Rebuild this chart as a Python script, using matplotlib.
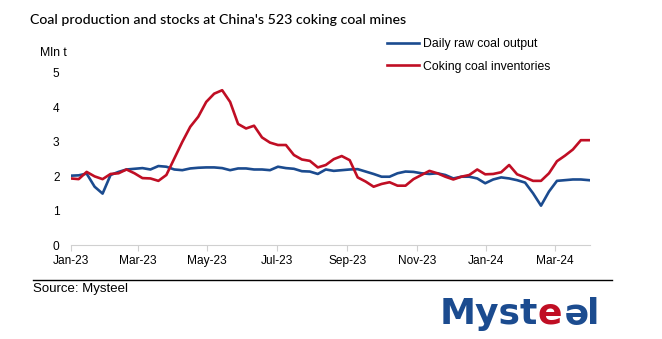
import matplotlib
matplotlib.use("Agg")
import matplotlib.pyplot as plt
import pandas as pd

# weekly readings, million tonnes
dates = pd.date_range("2023-01-06", periods=66, freq="7D")
daily_output = [2.02, 2.03, 2.08, 1.70, 1.50, 2.04, 2.13, 2.20, 2.22, 2.24,
                2.20, 2.30, 2.28, 2.20, 2.18, 2.23, 2.25, 2.26, 2.26, 2.24,
                2.18, 2.23, 2.23, 2.20, 2.20, 2.18, 2.28, 2.24, 2.22, 2.15,
                2.14, 2.07, 2.20, 2.16, 2.18, 2.20, 2.21, 2.14, 2.07, 1.99,
                1.99, 2.09, 2.14, 2.13, 2.09, 2.07, 2.09, 2.04, 1.94, 1.99,
                1.99, 1.94, 1.80, 1.91, 1.97, 1.94, 1.89, 1.82, 1.51, 1.15,
                1.56, 1.87, 1.89, 1.91, 1.91, 1.89]
inventories = [1.94, 1.92, 2.13, 2.00, 1.92, 2.07, 2.09, 2.20, 2.09, 1.95,
               1.94, 1.87, 2.04, 2.52, 3.00, 3.44, 3.73, 4.16, 4.40, 4.50,
               4.16, 3.52, 3.39, 3.47, 3.13, 2.98, 2.91, 2.91, 2.62, 2.49,
               2.45, 2.26, 2.33, 2.50, 2.59, 2.47, 1.97, 1.85, 1.70, 1.78,
               1.83, 1.73, 1.73, 1.92, 2.04, 2.16, 2.09, 1.99, 1.91, 1.99,
               2.04, 2.20, 2.06, 2.07, 2.12, 2.33, 2.06, 1.97, 1.87, 1.87,
               2.09, 2.44, 2.60, 2.78, 3.05, 3.05]
tick_dates = pd.to_datetime(["2023-01-06", "2023-03-06", "2023-05-06", "2023-07-06",
                             "2023-09-06", "2023-11-06", "2024-01-06", "2024-03-06"])
tick_labels = ["Jan-23", "Mar-23", "May-23", "Jul-23", "Sep-23", "Nov-23", "Jan-24", "Mar-24"]

blue = "#1B4B8F"
red = "#C00E24"
sans = ["Liberation Sans", "DejaVu Sans"]

fig = plt.figure(figsize=(6.62, 3.39), dpi=100)
ax = fig.add_axes([0.1068, 0.2764, 0.7844, 0.5083])

ax.plot(dates, daily_output, color=blue, lw=1.9, label="Daily raw coal output")
ax.plot(dates, inventories, color=red, lw=1.9, label="Coking coal inventories")

ax.set_ylim(0, 5)
ax.set_xlim(dates[0], dates[-1] + pd.Timedelta(days=1))
ax.set_yticks(range(6))
ax.set_xticks(tick_dates)
ax.set_xticklabels(tick_labels)
for s in ["top", "right", "left"]:
    ax.spines[s].set_visible(False)
ax.spines["bottom"].set_color("#d0d0d0")
ax.tick_params(axis="x", colors="#d0d0d0", length=4, pad=3, labelcolor="black")
ax.tick_params(axis="y", length=0, pad=8)
for lab in ax.get_xticklabels() + ax.get_yticklabels():
    lab.set_fontfamily(sans)
    lab.set_fontsize(8.6)

ax.legend(loc="upper left", bbox_to_anchor=(0.6, 1.23), frameon=False,
          prop={"family": sans, "size": 8.8}, handlelength=2.6,
          handletextpad=0.3, labelspacing=0.85, borderaxespad=0)

fig.text(0.046, 0.94, "Coal production and stocks at China's 523 coking coal mines",
         fontsize=10.2, family="Lato", weight="medium", va="center")
fig.text(0.06, 0.845, "Mln t", fontsize=8.8, family=sans, va="center")

# rule above the source note
fig.add_artist(plt.Line2D([0.05, 0.925], [0.174, 0.174], color="black", lw=1))
fig.text(0.05, 0.147, "Source: Mysteel", fontsize=9.5, family=sans, va="center")

# logo lettering
fig.canvas.draw()
r = fig.canvas.get_renderer()
x = 0.664
y = 0.075
logo = dict(fontsize=26, family="DejaVu Sans", weight="bold", va="center")
for part, col, rot in [("Myst", blue, 0), ("e", red, 0), ("e", blue, 180), ("l", blue, 0)]:
    t = fig.text(x, y, part, color=col, rotation=rot, ha="left", **logo)
    bb = t.get_window_extent(r)
    x += bb.width / fig.bbox.width

fig.savefig("out.png", dpi=100)
